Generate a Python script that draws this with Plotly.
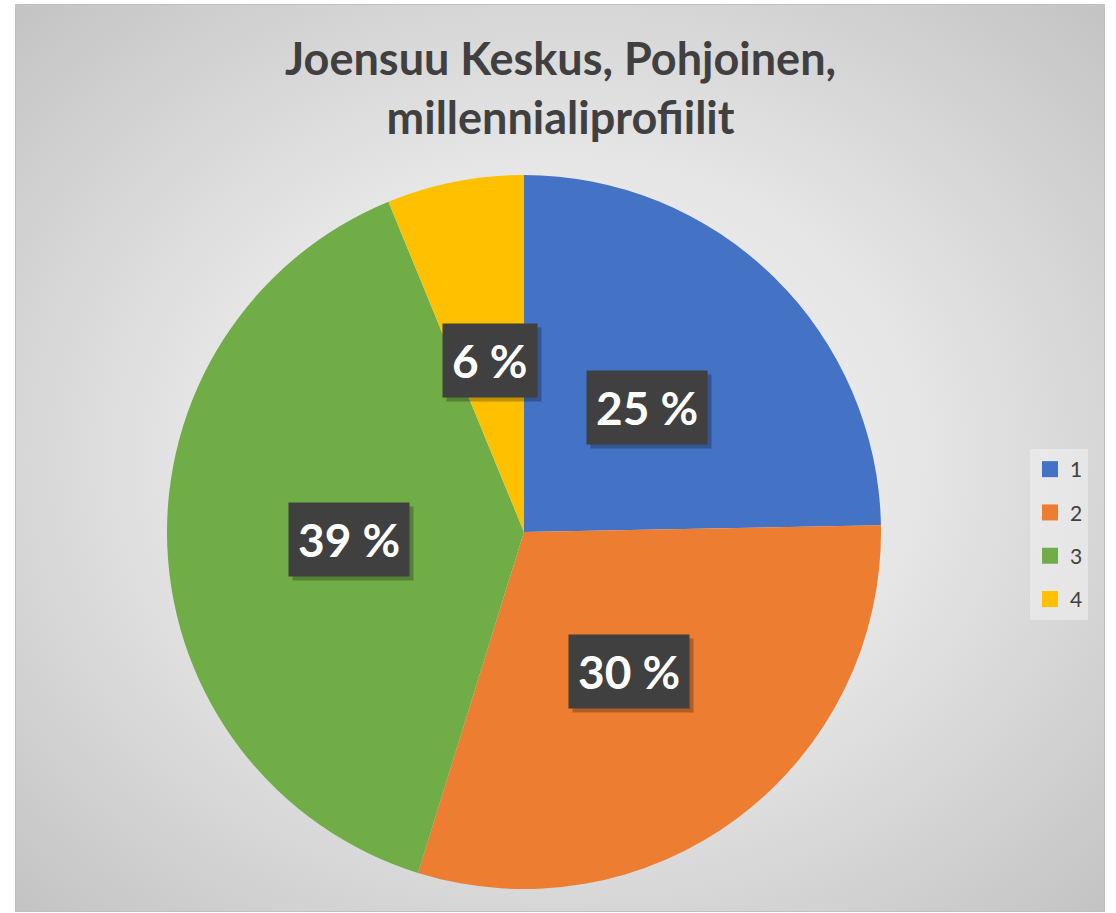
import math, base64
import plotly.graph_objects as go

# ---- data ----
categories = ["1", "2", "3", "4"]
values = [24.7, 30.1, 39.0, 6.2]
colors = ["#4472C4", "#ED7D31", "#70AD47", "#FFC000"]
title_text = "Joensuu Keskus, Pohjoinen,<br>millennialiprofiilit"

W, H = 1116, 913
FONT = "Lato"

# pie geometry (px)
cx, cy, R = 524, 532, 357
dom_x = [(cx - R) / W, (cx + R) / W]
dom_y = [(H - cy - R) / H, (H - cy + R) / H]

total = sum(values)
labels_txt = [f"{round(v / total * 100)} %" for v in values]

fig = go.Figure()
fig.add_trace(go.Pie(
    labels=categories, values=values, sort=False, direction="clockwise",
    rotation=0, marker=dict(colors=colors, line=dict(width=0)),
    textinfo="none", hoverinfo="label+percent", showlegend=False,
    domain=dict(x=dom_x, y=dom_y),
))

# legend via dummy traces (for spacing)
for c, col in zip(categories, colors):
    fig.add_trace(go.Scatter(
        x=[None], y=[None], mode="markers", name=c, legendgroup=c,
        marker=dict(symbol="square", size=16, color=col), showlegend=True,
    ))

# background radial gradient
svg = f'''<svg xmlns="http://www.w3.org/2000/svg" width="1090" height="908" viewBox="0 0 1090 908" preserveAspectRatio="none">
<defs><radialGradient id="g" cx="50%" cy="50%" r="72%">
<stop offset="0%" stop-color="#f4f4f4"/><stop offset="45%" stop-color="#e6e6e6"/><stop offset="100%" stop-color="#c2c2c2"/>
</radialGradient></defs>
<rect x="0" y="0" width="1090" height="908" fill="url(#g)" stroke="#c0c0c0" stroke-width="2"/>
</svg>'''
src = "data:image/svg+xml;base64," + base64.b64encode(svg.encode()).decode()

annotations = [dict(
    x=560 / W, y=1 - 88 / H, xref="paper", yref="paper", xanchor="center", yanchor="middle",
    text=f"<b>{title_text}</b>", showarrow=False,
    font=dict(family=FONT, size=45, color="#404040"),
)]
cum = 0
for v, t in zip(values, labels_txt):
    m = (cum + v / 2) / total
    cum += v
    th = 2 * math.pi * m
    px = cx + 0.49 * R * math.sin(th)
    py = cy - 0.49 * R * math.cos(th)
    ax_, ay_ = px / W, 1 - py / H
    # shadow
    annotations.append(dict(
        x=ax_, y=ay_, xref="paper", yref="paper", xanchor="center", yanchor="middle",
        text=f"<b>{t}</b>", showarrow=False,
        font=dict(family=FONT, size=46, color="rgba(0,0,0,0)"),
        bgcolor="rgba(0,0,0,0.25)", borderpad=9, xshift=4, yshift=-4,
    ))
    annotations.append(dict(
        x=ax_, y=ay_, xref="paper", yref="paper", xanchor="center", yanchor="middle",
        text=f"<b>{t}</b>", showarrow=False,
        font=dict(family=FONT, size=46, color="white"),
        bgcolor="#404040", borderpad=9,
    ))

fig.update_layout(
    width=W, height=H, margin=dict(l=0, r=0, t=0, b=0),
    paper_bgcolor="white", plot_bgcolor="rgba(0,0,0,0)",
    xaxis=dict(visible=False), yaxis=dict(visible=False),
    images=[dict(source=src, xref="paper", yref="paper", x=15 / W, y=1 - 4 / H,
                 sizex=1090 / W, sizey=908 / H, sizing="stretch", layer="below",
                 xanchor="left", yanchor="top")],
    legend=dict(x=1030 / W, y=1 - 449 / H, xanchor="left", yanchor="top",
                bgcolor="rgba(240,240,240,0.6)", tracegroupgap=13,
                font=dict(family=FONT, size=21, color="#404040"),
                itemwidth=30),
    annotations=annotations,
    hovermode=False,
)

fig.write_html("out.html", config={"displayModeBar": False},
               post_script="document.body.style.margin='0';document.body.style.overflow='hidden';")
